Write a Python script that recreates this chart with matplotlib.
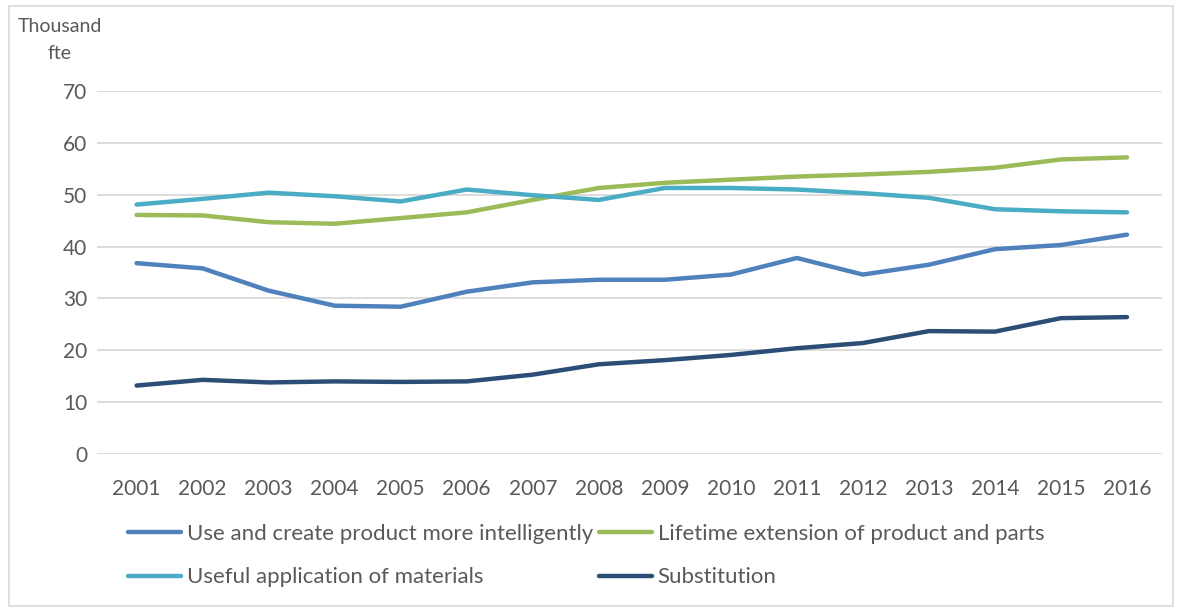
import matplotlib.pyplot as plt
import numpy as np

years = [str(y) for y in range(2001, 2017)]

use_create = [36.8, 35.8, 31.5, 28.6, 28.4, 31.3, 33.1, 33.6, 33.6, 34.6, 37.8, 34.6, 36.5, 39.5, 40.3, 42.3]
lifetime_ext = [46.1, 46.0, 44.7, 44.4, 45.5, 46.6, 49.0, 51.3, 52.3, 52.9, 53.5, 53.9, 54.4, 55.2, 56.8, 57.2]
useful_app = [48.1, 49.2, 50.4, 49.7, 48.7, 51.0, 49.9, 49.0, 51.3, 51.3, 51.0, 50.3, 49.4, 47.2, 46.8, 46.6]
substitution = [13.2, 14.3, 13.8, 14.0, 13.9, 14.0, 15.3, 17.3, 18.1, 19.1, 20.4, 21.4, 23.7, 23.6, 26.2, 26.4]

series = [
    ("Use and create product more intelligently", use_create, "#4f81bd"),
    ("Lifetime extension of product and parts", lifetime_ext, "#9bbb59"),
    ("Useful application of materials", useful_app, "#4bacc6"),
    ("Substitution", substitution, "#2c4d75"),
]

plt.rcParams['font.family'] = ['Lato', 'DejaVu Sans']
text_color = "#595959"

fig = plt.figure(figsize=(11.78, 6.10), dpi=100)
ax = fig.add_axes([97 / 1178, 1 - 454 / 610, (1162 - 97) / 1178, (454 - 91) / 610])

x = np.arange(len(years))
lines = []
for label, vals, color in series:
    ln, = ax.plot(x, vals, color=color, linewidth=3.2, solid_capstyle='round',
                  solid_joinstyle='round', label=label)
    lines.append(ln)

ax.set_ylim(0, 70)
ax.set_yticks(range(0, 71, 10))
ax.set_xlim(-0.6, 15.53)
ax.set_xticks(x)
ax.set_xticklabels(years)
ax.grid(axis='y', color='#d9d9d9', linewidth=1.3)
ax.set_axisbelow(True)
for s in ax.spines.values():
    s.set_visible(False)
ax.tick_params(length=0, labelsize=15, colors=text_color)
ax.tick_params(axis='x', pad=18)
ax.tick_params(axis='y', pad=7)

fig.text(60 / 1178, 1 - 40 / 610, "Thousand\nfte", ha='center', va='center',
         fontsize=14, color=text_color, linespacing=1.7)

# legend filled column-major, so reorder to read row by row
order = [0, 2, 1, 3]
leg = fig.legend([lines[i] for i in order], [series[i][0] for i in order],
                 loc='upper left', ncol=2,
                 bbox_to_anchor=(128 / 1178, 1 - 524 / 610),
                 frameon=False, fontsize=16, handlelength=2.4,
                 handletextpad=0.25, columnspacing=0.25, labelspacing=1.05,
                 borderpad=0, borderaxespad=0)
for t in leg.get_texts():
    t.set_color(text_color)

# outer border
fig.patches.append(plt.Rectangle((9 / 1178, 4 / 610), 1164 / 1178, 600 / 610,
                                 transform=fig.transFigure, fill=False,
                                 edgecolor='#d9d9d9', linewidth=1.2))

fig.savefig("out.png", dpi=100)
